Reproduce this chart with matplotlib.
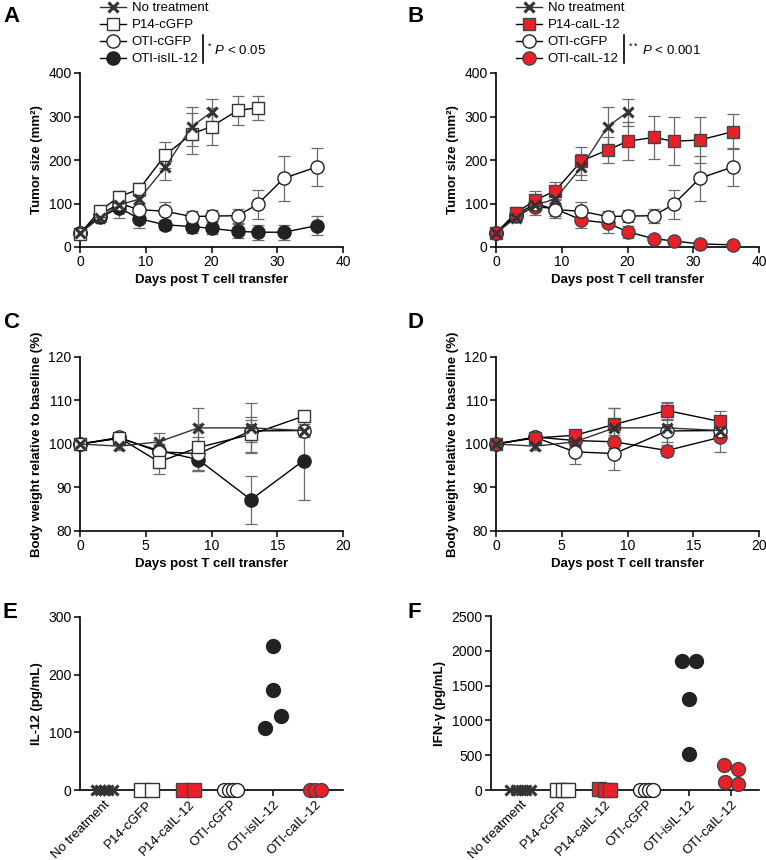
import matplotlib
matplotlib.use("Agg")
import matplotlib.pyplot as plt
from matplotlib.lines import Line2D
import numpy as np

plt.rcParams['font.family'] = ['Liberation Sans', 'DejaVu Sans']
plt.rcParams['mathtext.fontset'] = 'custom'
plt.rcParams['mathtext.rm'] = 'Liberation Sans'
plt.rcParams['mathtext.it'] = 'Liberation Sans:italic'

RED = '#e8202a'
ERR = '0.42'

# ---- tumour growth (A, B) ----
days_nt = [0, 3, 6, 9, 13, 17, 20]
size_nt = [32, 67, 97, 110, 184, 277, 310]
err_nt = [4, 8, 10, 12, 29, 45, 31]

days_p14 = [0, 3, 6, 9, 13, 17, 20, 24, 27]
size_p14g = [31, 83, 116, 133, 212, 260, 277, 314, 320]
err_p14g = [4, 8, 12, 15, 30, 47, 42, 34, 28]

days_oti = [0, 3, 6, 9, 13, 17, 20, 24, 27, 31, 36]
size_otig = [32, 74, 100, 86, 82, 70, 71, 72, 98, 158, 184]
err_otig = [4, 8, 12, 14, 22, 13, 13, 16, 33, 52, 43]

size_otiis = [32, 68, 90, 65, 51, 47, 43, 36, 34, 34, 49]
err_otiis = [4, 8, 23, 21, 11, 14, 14, 16, 17, 17, 22]

days_p14ca = [0, 3, 6, 9, 13, 17, 20, 24, 27, 31, 36]
size_p14ca = [32, 78, 108, 129, 198, 223, 243, 252, 243, 246, 265]
err_p14ca = [4, 15, 20, 21, 33, 30, 44, 50, 55, 52, 40]

size_otica = [32, 72, 93, 88, 62, 55, 35, 19, 14, 7, 5]
err_otica = [4, 8, 20, 22, 18, 22, 14, 5, 4, 3, 3]

# ---- body weight (C, D) ----
days_bw = [0, 3, 6, 9, 13, 17]
bw_nt = [100, 99.5, 100.5, 103.7, 103.7, 103.1]
bw_nt_err = [0.3, 0.8, 2.0, 4.6, 5.8, 1.5]
bw_p14g = [100, 101.4, 95.9, 99.2, 102.2, 106.4]
bw_p14g_err = [0.3, 1.2, 2.7, 5.5, 4.0, 1.2]
bw_otig = [100, 101.5, 98.2, 97.8, 103.0, 103.1]
bw_otig_err = [0.3, 1.0, 2.7, 3.8, 2.5, 1.0]
bw_otiis = [100, 101.3, 98.5, 96.4, 87.2, 96.2]
bw_otiis_err = [0.3, 0.8, 1.5, 2.5, 5.5, 9.0]
bw_p14ca = [100, 101.4, 102.0, 104.5, 107.7, 105.2]
bw_p14ca_err = [0.3, 1.0, 1.2, 3.8, 2.0, 2.5]
bw_otica = [100, 101.6, 100.8, 100.5, 98.5, 101.5]
bw_otica_err = [0.3, 1.0, 1.5, 1.5, 1.2, 3.3]

# ---- cytokines (E, F) ----
groups = ['No treatment', 'P14-cGFP', 'P14-caIL-12', 'OTI-cGFP', 'OTI-isIL-12', 'OTI-caIL-12']
il12_vals = [
    [0, 0, 0, 0, 0],
    [0, 0],
    [0, 0],
    [0, 0, 0, 0],
    [249, 174, 129, 108],
    [0, 0, 0],
]
il12_offs = [
    [-0.2, -0.1, 0, 0.1, 0.2],
    [-0.13, 0.13],
    [-0.13, 0.13],
    [-0.17, -0.05, 0.05, 0.15],
    [0, 0, 0.18, -0.18],
    [-0.12, 0, 0.13],
]
ifng_vals = [
    [0, 0, 0, 0, 0],
    [0, 0, 0],
    [20, 0, 0],
    [0, 0, 0, 0],
    [1858, 1858, 1303, 517],
    [359, 307, 110, 81],
]
ifng_offs = [
    [-0.25, -0.12, 0, 0.12, 0.25],
    [-0.13, 0, 0.13],
    [-0.13, 0, 0.13],
    [-0.17, -0.05, 0.05, 0.15],
    [-0.16, 0.16, 0, 0],
    [-0.16, 0.17, -0.15, 0.17],
]

styles = {
    'No treatment': dict(marker='x', color='#333333', mec='#333333', ms=7, mew=2.2),
    'P14-cGFP': dict(marker='s', color='black', mfc='white', mec='#333333', ms=9, mew=1),
    'OTI-cGFP': dict(marker='o', color='black', mfc='white', mec='#222222', ms=9.5, mew=1),
    'OTI-isIL-12': dict(marker='o', color='black', mfc='#222222', mec='#222222', ms=9.5, mew=1),
    'P14-caIL-12': dict(marker='s', color='black', mfc=RED, mec='#444444', ms=9, mew=1),
    'OTI-caIL-12': dict(marker='o', color='black', mfc=RED, mec='#444444', ms=9.5, mew=1),
}
# stacking order of the series (x markers on top)
zorders = {'OTI-isIL-12': 3, 'OTI-caIL-12': 3, 'OTI-cGFP': 4, 'P14-cGFP': 5,
           'P14-caIL-12': 5, 'No treatment': 6}

TICK = 10
LAB = 9.5

fig = plt.figure(figsize=(7.66, 8.6), dpi=100)
W, H = 766.0, 860.0


def make_ax(x0, x1, ytop, ybot):
    ax = fig.add_axes([x0 / W, 1 - ybot / H, (x1 - x0) / W, (ybot - ytop) / H])
    for s in ['top', 'right']:
        ax.spines[s].set_visible(False)
    for s in ['left', 'bottom']:
        ax.spines[s].set_linewidth(1.2)
    ax.tick_params(direction='out', length=4, width=1.1, labelsize=TICK, pad=2)
    return ax


def series(ax, x, y, e, name):
    ax.errorbar(x, y, yerr=e, fmt='none', ecolor=ERR, elinewidth=0.9, capsize=4,
                capthick=0.9, zorder=2, clip_on=False)
    st = styles[name]
    h, = ax.plot(x, y, lw=1, zorder=zorders[name], clip_on=False, label=name, **st)
    return h


def growth_style(ax):
    ax.set_xlim(0, 40)
    ax.set_ylim(0, 400)
    ax.set_xticks([0, 10, 20, 30, 40])
    ax.set_yticks([0, 100, 200, 300, 400])
    ax.set_xlabel('Days post T cell transfer', fontweight='bold', fontsize=LAB, labelpad=3)
    ax.set_ylabel('Tumor size (mm²)', fontweight='bold', fontsize=LAB, labelpad=4)


def weight_style(ax):
    ax.set_xlim(0, 20)
    ax.set_ylim(80, 120)
    ax.set_xticks([0, 5, 10, 15, 20])
    ax.set_yticks([80, 90, 100, 110, 120])
    ax.set_xlabel('Days post T cell transfer', fontweight='bold', fontsize=LAB, labelpad=3)
    ax.set_ylabel('Body weight relative to baseline (%)', fontweight='bold', fontsize=LAB, labelpad=4)


# panel A
axA = make_ax(80, 343, 73, 247)
hA = [series(axA, days_nt, size_nt, err_nt, 'No treatment'),
      series(axA, days_p14, size_p14g, err_p14g, 'P14-cGFP'),
      series(axA, days_oti, size_otig, err_otig, 'OTI-cGFP'),
      series(axA, days_oti, size_otiis, err_otiis, 'OTI-isIL-12')]
growth_style(axA)

# panel B
axB = make_ax(496, 759, 73, 247)
hB = [series(axB, days_nt, size_nt, err_nt, 'No treatment'),
      series(axB, days_p14ca, size_p14ca, err_p14ca, 'P14-caIL-12'),
      series(axB, days_oti, size_otig, err_otig, 'OTI-cGFP'),
      series(axB, days_oti, size_otica, err_otica, 'OTI-caIL-12')]
growth_style(axB)

# legends
for hs, xl in [(hA, 100), (hB, 516)]:
    fig.legend(handles=hs, loc='upper left', bbox_to_anchor=(xl / W, 1.0 - 2 / H),
               frameon=False, fontsize=9.5, handlelength=2.0, handletextpad=0.4,
               labelspacing=0.36, borderpad=0, borderaxespad=0)

fig.add_artist(Line2D([203 / W, 203 / W], [1 - 35 / H, 1 - 63 / H], color='black', lw=1.2))
fig.text(207 / W, 1 - 50 / H, r'$^{*}$ $P$ < 0.05', fontsize=9.5, va='center')
fig.add_artist(Line2D([624 / W, 624 / W], [1 - 35 / H, 1 - 63 / H], color='black', lw=1.2))
fig.text(628 / W, 1 - 50 / H, r'$^{**}$ $P$ < 0.001', fontsize=9.5, va='center')

# panel C
axC = make_ax(80, 343, 357, 531)
series(axC, days_bw, bw_nt, bw_nt_err, 'No treatment')
series(axC, days_bw, bw_p14g, bw_p14g_err, 'P14-cGFP')
series(axC, days_bw, bw_otig, bw_otig_err, 'OTI-cGFP')
series(axC, days_bw, bw_otiis, bw_otiis_err, 'OTI-isIL-12')
weight_style(axC)

# panel D
axD = make_ax(496, 759, 357, 531)
series(axD, days_bw, bw_nt, bw_nt_err, 'No treatment')
series(axD, days_bw, bw_p14ca, bw_p14ca_err, 'P14-caIL-12')
series(axD, days_bw, bw_otig, bw_otig_err, 'OTI-cGFP')
series(axD, days_bw, bw_otica, bw_otica_err, 'OTI-caIL-12')
weight_style(axD)


def dots(ax, vals, offs):
    for i, g in enumerate(groups):
        st = dict(styles[g])
        st['ms'] = st['ms'] + 0.5
        ax.plot(np.array(offs[i]) + i, vals[i], ls='none', zorder=3, clip_on=False, **st)
    ax.set_xticks(range(len(groups)))
    ax.set_xticklabels(groups, rotation=45, ha='right', rotation_mode='anchor', fontsize=LAB)


# panel E
axE = make_ax(80, 343, 617, 790)
dots(axE, il12_vals, il12_offs)
axE.set_xlim(-0.57, 5.66)
axE.set_ylim(0, 300)
axE.set_yticks([0, 100, 200, 300])
axE.set_ylabel('IL-12 (pg/mL)', fontweight='bold', fontsize=LAB, labelpad=4)

# panel F
axF = make_ax(491, 759, 616, 790)
dots(axF, ifng_vals, ifng_offs)
axF.set_xlim(-0.71, 5.67)
axF.set_ylim(0, 2500)
axF.set_yticks([0, 500, 1000, 1500, 2000, 2500])
axF.set_ylabel('IFN-γ (pg/mL)', fontweight='bold', fontsize=LAB, labelpad=4)

for lab, x, y in [('A', 3, 17), ('B', 407, 17), ('C', 3, 322), ('D', 407, 322),
                  ('E', 3, 612), ('F', 407, 612)]:
    fig.text(x / W, 1 - y / H, lab, fontsize=16, fontweight='bold', va='center')

fig.savefig('out.png', dpi=100)
